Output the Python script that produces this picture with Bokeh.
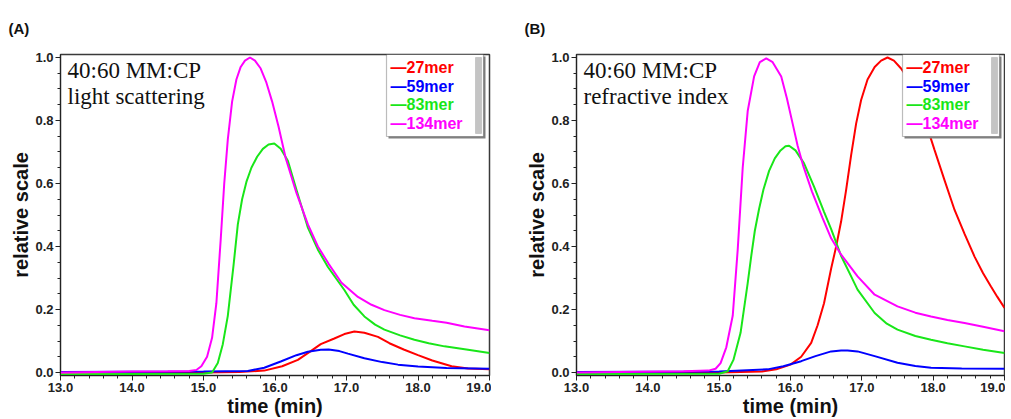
from bokeh.plotting import figure
from bokeh.layouts import row
from bokeh.models import (Range1d, SingleIntervalTicker, PrintfTickFormatter,
                          Label, BoxAnnotation)
from bokeh.embed import file_html
from bokeh.resources import INLINE

# ---------------- data ----------------
series_names = ["27mer", "59mer", "83mer", "134mer"]
series_colors = ["#ff0000", "#0000ff", "#19e619", "#ff00ff"]

x_label = "time (min)"
y_label = "relative scale"

# Panel A : light scattering
a_t_27 = [13.0, 15.0, 15.5, 15.85, 16.1, 16.32, 16.5, 16.64, 16.83, 16.97, 17.11, 17.25,
          17.44, 17.6, 17.8, 18.0, 18.2, 18.47, 18.7, 19.0]
a_v_27 = [0.0, 0.0, 0.002, 0.006, 0.02, 0.04, 0.068, 0.09, 0.108, 0.122, 0.13, 0.126,
          0.113, 0.093, 0.073, 0.055, 0.038, 0.02, 0.013, 0.01]
a_t_59 = [13.0, 15.0, 15.62, 15.85, 16.08, 16.3, 16.46, 16.64, 16.75, 16.9, 17.02, 17.25,
          17.5, 17.72, 18.0, 18.4, 19.0]
a_v_59 = [0.002, 0.003, 0.005, 0.015, 0.035, 0.055, 0.066, 0.072, 0.073, 0.068, 0.06, 0.045,
          0.033, 0.025, 0.019, 0.014, 0.012]
a_t_83 = [13.0, 14.0, 15.0, 15.12, 15.2, 15.27, 15.34, 15.42, 15.48, 15.54, 15.6, 15.67,
          15.75, 15.83, 15.91, 15.99, 16.08, 16.18, 16.3, 16.46, 16.6, 16.74, 16.97, 17.1,
          17.25, 17.4, 17.53, 17.75, 17.95, 18.15, 18.37, 18.7, 19.0]
a_v_83 = [-0.006, -0.005, -0.004, 0.0, 0.03, 0.09, 0.18, 0.34, 0.47, 0.55, 0.605, 0.65,
          0.685, 0.71, 0.724, 0.727, 0.71, 0.672, 0.58, 0.46, 0.39, 0.335, 0.262, 0.215,
          0.178, 0.152, 0.136, 0.118, 0.104, 0.093, 0.083, 0.072, 0.062]
a_t_134 = [13.0, 14.0, 14.5, 14.8, 14.9, 14.97, 15.05, 15.12, 15.18, 15.24, 15.29, 15.34,
           15.4, 15.46, 15.52, 15.58, 15.65, 15.72, 15.8, 15.88, 15.96, 16.05, 16.15, 16.3,
           16.46, 16.6, 16.75, 16.93, 17.16, 17.35, 17.53, 17.75, 17.95, 18.2, 18.4, 18.65, 19.0]
a_v_134 = [0.0, 0.003, 0.004, 0.005, 0.008, 0.02, 0.05, 0.11, 0.22, 0.42, 0.6, 0.74,
           0.86, 0.93, 0.97, 0.99, 1.0, 0.99, 0.965, 0.92, 0.86, 0.78, 0.68, 0.57,
           0.47, 0.4, 0.345, 0.285, 0.24, 0.215, 0.198, 0.183, 0.172, 0.164, 0.158, 0.146, 0.134]

# Panel B : refractive index
b_t_27 = [13.0, 15.0, 15.6, 15.8, 16.0, 16.15, 16.29, 16.38, 16.47, 16.57, 16.64, 16.71,
          16.78, 16.85, 16.92, 16.99, 17.08, 17.18, 17.27, 17.36, 17.45, 17.55, 17.67, 17.79,
          17.9, 18.02, 18.16, 18.3, 18.44, 18.58, 18.7, 18.81, 18.9, 19.0]
b_v_27 = [0.0, 0.0, 0.003, 0.01, 0.025, 0.05, 0.094, 0.15, 0.22, 0.33, 0.4, 0.48,
          0.58, 0.69, 0.79, 0.865, 0.93, 0.97, 0.99, 1.0, 0.99, 0.965, 0.925, 0.865,
          0.79, 0.706, 0.61, 0.516, 0.44, 0.368, 0.315, 0.273, 0.24, 0.205]
b_t_59 = [13.0, 15.0, 15.68, 15.9, 16.15, 16.35, 16.57, 16.71, 16.8, 16.94, 17.18, 17.5,
          17.75, 17.97, 18.4, 19.0]
b_v_59 = [0.002, 0.003, 0.01, 0.02, 0.036, 0.052, 0.067, 0.07, 0.07, 0.067, 0.052, 0.031,
          0.021, 0.015, 0.013, 0.012]
b_t_83 = [13.0, 15.0, 15.12, 15.2, 15.3, 15.4, 15.45, 15.5, 15.56, 15.62, 15.7, 15.78,
          15.86, 15.93, 15.98, 16.07, 16.19, 16.33, 16.47, 16.57, 16.71, 16.85, 16.94, 17.18,
          17.35, 17.5, 17.75, 17.97, 18.2, 18.44, 18.7, 19.0]
b_v_83 = [-0.005, -0.004, 0.004, 0.04, 0.126, 0.284, 0.37, 0.45, 0.52, 0.58, 0.64, 0.68,
          0.705, 0.718, 0.72, 0.705, 0.664, 0.59, 0.51, 0.455, 0.37, 0.305, 0.263, 0.189,
          0.155, 0.136, 0.116, 0.104, 0.093, 0.083, 0.072, 0.062]
b_t_134 = [13.0, 14.5, 14.85, 14.95, 15.02, 15.1, 15.19, 15.26, 15.33, 15.4, 15.49, 15.57,
           15.66, 15.75, 15.87, 15.95, 16.03, 16.1, 16.18, 16.3, 16.45, 16.57, 16.71, 16.94,
           17.18, 17.5, 17.75, 17.97, 18.2, 18.44, 18.7, 19.0]
b_v_134 = [0.0, 0.004, 0.006, 0.012, 0.03, 0.08, 0.18, 0.39, 0.65, 0.83, 0.94, 0.985,
           0.997, 0.985, 0.94, 0.87, 0.79, 0.72, 0.655, 0.575, 0.49, 0.426, 0.374, 0.305,
           0.247, 0.21, 0.19, 0.178, 0.167, 0.157, 0.145, 0.131]

panel_tags = ["(A)", "(B)"]
caption_line1 = "40:60 MM:CP"
caption_line2 = ["light scattering", "refractive index"]

SANS = "Liberation Sans"
SERIF = "Liberation Serif"
FRAME_H = 323


def make_panel(tag, cap2, data, width, bl, br):
    p = figure(width=width, height=419, x_range=Range1d(13.0, 19.0),
               y_range=Range1d(-0.0095, 1.0095), output_backend="svg",
               toolbar_location=None, min_border_left=bl, min_border_right=br,
               min_border_top=53, min_border_bottom=43, title=tag)
    p.title.align = "left"
    p.title.offset = -52
    p.title.standoff = 35
    p.title.text_font = SANS
    p.title.text_font_style = "bold"
    p.title.text_font_size = "15px"
    p.title.text_color = "#111111"

    p.background_fill_color = "white"
    p.border_fill_color = "white"
    p.outline_line_color = "#3a3a3a"
    p.outline_line_width = 1.5
    p.xgrid.grid_line_color = None
    p.ygrid.grid_line_color = None

    for (t, v), c in zip(data, series_colors):
        p.line(t, v, line_color=c, line_width=2)

    p.xaxis.ticker = SingleIntervalTicker(interval=1.0, num_minor_ticks=5)
    p.yaxis.ticker = SingleIntervalTicker(interval=0.2, num_minor_ticks=4)
    for ax in (p.xaxis[0], p.yaxis[0]):
        ax.formatter = PrintfTickFormatter(format="%.1f")
        ax.major_label_text_font = SANS
        ax.major_label_text_font_style = "bold"
        ax.major_label_text_font_size = "13px"
        ax.major_label_text_color = "#222222"
        ax.axis_label_text_font = SANS
        ax.axis_label_text_font_style = "bold"
        ax.axis_label_text_font_size = "20px"
        ax.axis_label_text_color = "#111111"
        ax.axis_line_color = "#222222"
        ax.major_tick_line_color = "#222222"
        ax.minor_tick_line_color = "#222222"
        ax.major_tick_in = 0
        ax.major_tick_out = 5
        ax.minor_tick_in = 0
        ax.minor_tick_out = 3
        ax.major_label_standoff = 2
        ax.axis_label_standoff = 0
    p.xaxis.axis_label = x_label
    p.yaxis.axis_label = y_label

    # caption
    p.add_layout(Label(x=7, y=FRAME_H - 18, x_units="screen", y_units="screen",
                       text=caption_line1, text_font=SERIF, text_font_size="23px",
                       text_baseline="middle", text_color="#111111"))
    p.add_layout(Label(x=7, y=FRAME_H - 44, x_units="screen", y_units="screen",
                       text=cap2, text_font=SERIF, text_font_size="23px",
                       text_baseline="middle", text_color="#111111"))

    # legend box with shadow and scroll bar
    L, R, T, B = 326, 423, 2, 84
    p.add_layout(BoxAnnotation(left=L + 2, right=R + 2, top=FRAME_H - T - 2, bottom=FRAME_H - B - 2,
                               left_units="screen", right_units="screen",
                               top_units="screen", bottom_units="screen",
                               fill_color="#808080", fill_alpha=1.0, line_color=None))
    p.add_layout(BoxAnnotation(left=L, right=R, top=FRAME_H - T, bottom=FRAME_H - B,
                               left_units="screen", right_units="screen",
                               top_units="screen", bottom_units="screen",
                               fill_color="white", fill_alpha=1.0, line_color="#222222",
                               line_width=1.2))
    p.add_layout(BoxAnnotation(left=R - 8, right=R - 2, top=FRAME_H - T - 3, bottom=FRAME_H - B + 3,
                               left_units="screen", right_units="screen",
                               top_units="screen", bottom_units="screen",
                               fill_color="#c4c4c4", fill_alpha=1.0, line_color="#8a8a8a",
                               line_width=1))
    for k, (name, c) in enumerate(zip(series_names, series_colors)):
        p.add_layout(Label(x=L + 4, y=FRAME_H - (15 + k * 18.7), x_units="screen", y_units="screen",
                           text="\u2014" + name, text_font=SANS, text_font_style="bold",
                           text_font_size="16px", text_baseline="middle", text_color=c))
    return p


pa = make_panel(panel_tags[0], caption_line2[0],
                [(a_t_27, a_v_27), (a_t_59, a_v_59), (a_t_83, a_v_83), (a_t_134, a_v_134)],
                491, 60, 2)
pb = make_panel(panel_tags[1], caption_line2[1],
                [(b_t_27, b_v_27), (b_t_59, b_v_59), (b_t_83, b_v_83), (b_t_134, b_v_134)],
                514, 85, 1)

layout = row(pa, pb)
open("out.html", "w").write(file_html(layout, INLINE))
